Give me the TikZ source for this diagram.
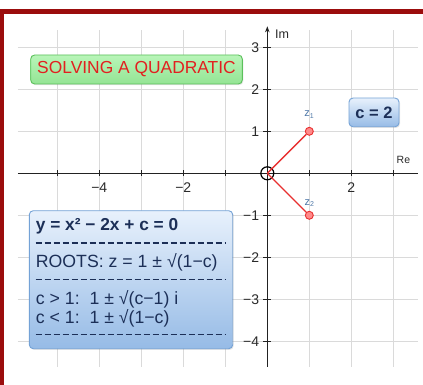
\documentclass[tikz,border=0pt]{standalone}
\usepackage{fontspec}
\setmainfont{Liberation Sans}
\usetikzlibrary{shadows,arrows.meta}
\definecolor{framered}{HTML}{9B0D0D}
\definecolor{gridgray}{HTML}{DADADA}
\definecolor{axisgray}{HTML}{222222}
\definecolor{labgray}{HTML}{2A2A2A}
\definecolor{navy}{HTML}{1C2F57}
\definecolor{boxborder}{HTML}{74A2D6}
\definecolor{boxtop}{HTML}{E8F1FC}
\definecolor{boxbot}{HTML}{96BBE6}
\definecolor{greentop}{HTML}{B8F5B8}
\definecolor{greenbot}{HTML}{94E494}
\definecolor{greenborder}{HTML}{5CC05C}
\definecolor{titlered}{HTML}{E22020}
\definecolor{ptred}{HTML}{E83030}
\definecolor{ptfill}{HTML}{FF8A8A}
\definecolor{zblue}{HTML}{4F78A8}
\tikzset{
  gridline/.style={draw=gridgray, line width=0.8pt},
  axisline/.style={draw=axisgray, line width=1.3pt},
  tickmark/.style={draw=axisgray, line width=1pt},
  ticklab/.style={inner sep=0pt, text=labgray, font=\fontsize{14}{16}\selectfont},
  panel/.style={rounded corners=4pt, line width=0.9pt, inner sep=0pt,
    drop shadow={opacity=0.2, shadow xshift=1pt, shadow yshift=-1.2pt}},
  titlebox/.style={panel, draw=greenborder, top color=greentop, bottom color=greenbot,
    text=titlered, font=\fontsize{17.4}{20}\selectfont},
  bluebox/.style={panel, draw=boxborder, top color=boxtop, bottom color=boxbot},
  formtext/.style={inner sep=0pt, anchor=base west, text=navy, font=\fontsize{17.7}{20}\selectfont},
  dashrule/.style={draw=navy, line width=1.6pt, dash pattern=on 6pt off 3pt},
  ptdot/.style={circle, draw=ptred, fill=ptfill, line width=0.9pt, minimum size=8pt, inner sep=0pt},
  origmark/.style={circle, draw=black, line width=1.2pt, minimum size=13pt, inner sep=0pt},
  redline/.style={draw=ptred, line width=1.3pt},
  zlab/.style={inner sep=0pt, anchor=base, text=zblue, font=\fontsize{11}{13}\selectfont},
}
\begin{document}
\begin{tikzpicture}[x=1pt,y=-1pt]
\useasboundingbox (0,0) rectangle (423,385);
\fill[white] (0,0) rectangle (423,385);
% frame
\fill[framered] (0,9.5) rectangle (423,14);
\fill[framered] (0,9.5) rectangle (3.5,385);

\begin{scope}[shift={(267.3,173.3)}, x=42pt, y=42pt]
  % grid
  \foreach \i in {-5,...,3} \draw[gridline] (\i,3.41) -- (\i,-4.61);
  \foreach \j in {-4,...,3} \draw[gridline] (-5.94,\j) -- (3.59,\j);
  % axes
  \draw[axisline] (-5.94,0) -- (3.59,0);
  \draw[axisline,-{Stealth[length=6pt,width=4.5pt]}] (0,-4.61) -- (0,3.5);
  % ticks
  \foreach \i in {-5,-4,-3,-2,-1,1,2,3} \draw[tickmark] (\i,0) ++(0,3pt) -- ++(0,-6pt);
  \foreach \j in {-4,-3,-2,-1,1,2,3} \draw[tickmark] (0,\j) ++(-4pt,0) -- ++(8pt,0);
  % x labels
  \foreach \i/\t in {-4/−4,-2/−2,2/2}
    \node[ticklab, anchor=base] (xl\i) at ([yshift=-19.4pt]\i,0) {\t};
  % y labels
  \foreach \j/\t in {3/3,2/2,1/1,-1/−1,-2/−2,-3/−3,-4/−4}
    \node[ticklab, anchor=base east] (yl\j) at ([xshift=-8pt,yshift=-5.5pt]0,\j) {\t};
  % points
  \node[origmark] (o) at (0,0) {};
  \node[ptdot] (z1) at (1,1) {};
  \node[ptdot] (z2) at (1,-1) {};
  \draw[redline] (o.center) -- (z1);
  \draw[redline] (o.center) -- (z2);
\end{scope}

% axis names
\node[inner sep=0pt, anchor=base west, text=labgray, font=\fontsize{12.5}{14}\selectfont] (im) at (275,38.3) {Im};
\node[inner sep=0pt, anchor=base west, text=labgray, font=\fontsize{10.5}{12}\selectfont] (re) at (396.5,163.3) {Re};
% point labels
\node[zlab] (z1lab) at (309,116.7) {z\raisebox{-1.5pt}{\fontsize{7}{8}\selectfont 1}};
\node[zlab] (z2lab) at (309.3,205) {z\raisebox{-1.5pt}{\fontsize{7}{8}\selectfont 2}};

% title box
\node[titlebox, minimum width=211.6pt, minimum height=29pt] (title) at (136.5,69.5) {SOLVING A QUADRATIC};
% c = 2 box
\node[bluebox, minimum width=50pt, minimum height=28.7pt, text=navy,
      font=\bfseries\fontsize{16.5}{19}\selectfont] (cbox) at (374,112.4) {c = 2};
% formula box
\node[bluebox, minimum width=203.4pt, minimum height=138pt] (fbox) at (131,279.7) {};
\node[formtext, font=\bfseries\fontsize{17.3}{20}\selectfont] (l1) at (35.7,230.5) {y = x² − 2x + c = 0};
\draw[dashrule] (35.7,242.7) -- (225.7,242.7);
\node[formtext] (l2) at (35.7,267.3) {ROOTS: z = 1 ± √(1−c)};
\draw[dashrule] (35.7,279.3) -- (225.7,279.3);
\node[formtext] (l3) at (35.7,304.5) {c > 1:\ \ 1 ± √(c−1) i};
\node[formtext] (l4) at (35.7,323.5) {c < 1:\ \ 1 ± √(1−c)};
\draw[dashrule] (35.7,334.3) -- (225.7,334.3);
\end{tikzpicture}
\end{document}
